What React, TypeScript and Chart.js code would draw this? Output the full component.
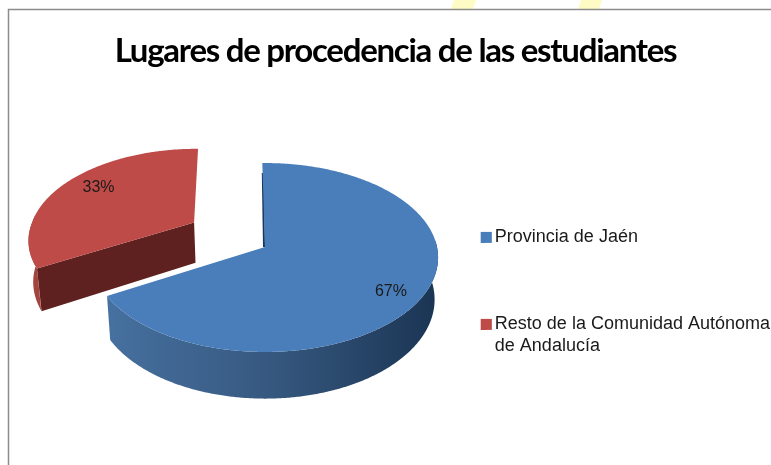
import React, { useEffect, useRef } from "react";
import { Chart, registerables } from "chart.js";

Chart.register(...registerables);

const categories: (string | string[])[] = [
  "Provincia de Jaén",
  ["Resto de la Comunidad Autónoma", "de Andalucía"],
];
const shares = [67, 33];
const percentLabels = ["67%", "33%"];
const sliceColors = ["#4A7EBB", "#BE4B48"];
const explodeOffsets = [0, 84];
const chartTitle = "Lugares de procedencia de las estudiantes";

const RAD = Math.PI / 180;
const PERSPECTIVE = 0.111;
const FLATTEN = 93.3 / 172;
const DEPTH = 41.5;
const TARGET_CENTRE = { x: 265, y: 247 };

const pie3d = {
  id: "pie3d",
  afterInit(chart: any) {
    const block = chart.titleBlock;
    const original = block.draw.bind(block);
    block.draw = (...args: any[]) => {
      chart.ctx.save();
      chart.ctx.letterSpacing = "-1.27px";
      original(...args);
      chart.ctx.restore();
    };
  },
  beforeDraw(chart: any) {
    const { ctx, width, height } = chart;
    ctx.save();
    ctx.fillStyle = "#ffffff";
    ctx.fillRect(0, 0, width, height);
    ctx.fillStyle = "#FFFBC4";
    for (const [a, b] of [[451, 476], [578, 602]]) {
      ctx.beginPath();
      ctx.moveTo(a + 3, 0);
      ctx.lineTo(b, 0);
      ctx.lineTo(b - 3, 9);
      ctx.lineTo(a, 9);
      ctx.closePath();
      ctx.fill();
    }
    ctx.strokeStyle = "#8C8C8C";
    ctx.lineWidth = 1.5;
    ctx.beginPath();
    ctx.moveTo(8.5, height);
    ctx.lineTo(8.5, 9.5);
    ctx.lineTo(width, 9.5);
    ctx.stroke();
    ctx.restore();
  },
  beforeDatasetsDraw(chart: any) {
    const { ctx } = chart;
    const arcs = chart.getDatasetMeta(0).data;
    const order = [1, 0];
    for (const i of order) {
      const arc = arcs[i];
      const R = arc.outerRadius;
      const cx = TARGET_CENTRE.x;
      const cy = TARGET_CENTRE.y;
      const mid = (arc.startAngle + arc.endAngle) / 2;
      const dx = (Math.cos(mid) * arc.options.offset) / R;
      const dy = (Math.sin(mid) * arc.options.offset) / R - (i === 1 ? 0.03 : 0);
      const s = arc.startAngle;
      const e = arc.endAngle;
      const project = (a: number, r: number, z: number) => {
        const mx = Math.cos(a) * r + dx;
        const my = Math.sin(a) * r + dy;
        const w = 1 - PERSPECTIVE * my;
        return {
          x: cx + ((R * mx) / w) * (1 - 0.02 * z),
          y: cy + (R * FLATTEN * my) / w + (DEPTH * z) / w,
        };
      };
      const rim = (a: number) => {
        if (i !== 1) return 1;
        const t = (a - s) / RAD;
        return 1 - 0.03 * Math.min(1, t / 30) - 0.05 * Math.max(0, (t - 30) / 89);
      };
      const wallFrom = Math.max(s, -4 * RAD);
      const wallTo = Math.min(e, 185 * RAD);
      ctx.beginPath();
      const pts: any[] = [];
      for (let a = wallFrom; a <= wallTo; a += RAD / 2) pts.push(project(a, rim(a), 0));
      pts.push(project(wallTo, rim(wallTo), 0));
      for (let a = wallTo; a >= wallFrom; a -= RAD / 2) pts.push(project(a, rim(a), 1));
      pts.forEach((p, k) => (k ? ctx.lineTo(p.x, p.y) : ctx.moveTo(p.x, p.y)));
      ctx.closePath();
      if (i === 0) {
        const g = ctx.createLinearGradient(cx - 155, 0, cx + 170, 0);
        g.addColorStop(0, "#46709F");
        g.addColorStop(0.5, "#36587F");
        g.addColorStop(1, "#1B3554");
        ctx.fillStyle = g;
      } else {
        ctx.fillStyle = "#A5433F";
      }
      ctx.fill();
      if (i === 1) {
        const a = project(s, 0, 0);
        const b = project(s, 1, 0);
        const c = project(s, 1, 1);
        const d = project(s, 0, 1);
        ctx.beginPath();
        ctx.moveTo(a.x, a.y);
        ctx.lineTo(b.x, b.y);
        ctx.lineTo(c.x, c.y);
        ctx.lineTo(d.x, d.y);
        ctx.closePath();
        ctx.fillStyle = "#5E211F";
        ctx.fill();
      } else {
        const a = project(s, 0, 0);
        const b = project(s, 1, 0);
        ctx.beginPath();
        ctx.moveTo(a.x - 1, a.y);
        ctx.lineTo(b.x + 0.5, b.y + 10);
        ctx.lineWidth = 2;
        ctx.strokeStyle = "#17375E";
        ctx.stroke();
      }
      ctx.beginPath();
      const o = project(s, 0, 0);
      ctx.moveTo(o.x, o.y);
      for (let a = s; a <= e; a += RAD / 2) {
        const p = project(a, rim(a), 0);
        ctx.lineTo(p.x, p.y);
      }
      const last = project(e, rim(e), 0);
      ctx.lineTo(last.x, last.y);
      ctx.closePath();
      ctx.fillStyle = arc.options.backgroundColor;
      ctx.fill();
      const la = mid + (i === 0 ? 3.5 : 4) * RAD;
      const lp = project(la, i === 0 ? 0.83 : 0.74, 0);
      ctx.save();
      ctx.fillStyle = "#1a1a1a";
      ctx.font = "16px 'Liberation Sans'";
      ctx.textAlign = "center";
      ctx.textBaseline = "middle";
      ctx.fillText(percentLabels[i], lp.x, lp.y);
      ctx.restore();
    }
    return false;
  },
  afterDraw(chart: any) {
    const { ctx, legend } = chart;
    ctx.save();
    legend.legendHitBoxes.forEach((hit: any, i: number) => {
      ctx.fillStyle = sliceColors[i];
      ctx.fillRect(hit.left, hit.top + 3.5, 11, 11);
    });
    ctx.restore();
  },
};

export default function App() {
  const ref = useRef<HTMLCanvasElement>(null);
  useEffect(() => {
    document.body.style.margin = "0";
    const chart = new Chart(ref.current as HTMLCanvasElement, {
      type: "pie",
      data: {
        labels: categories as any,
        datasets: [
          {
            data: shares,
            backgroundColor: sliceColors,
            offset: explodeOffsets,
            borderWidth: 0,
          } as any,
        ],
      },
      options: {
        responsive: false,
        animation: false,
        radius: 172,
        rotation: -1,
        layout: { padding: { left: 11, right: -9, top: 0, bottom: -122 } },
        plugins: {
          tooltip: { enabled: false },
          title: {
            display: true,
            text: chartTitle,
            color: "#000000",
            font: { family: "Lato", size: 33, weight: "bold" },
            padding: { top: 32, bottom: 6 },
          },
          legend: {
            position: "right",
            align: "center",
            labels: {
              boxWidth: 5,
              boxHeight: 11,
              padding: 69,
              color: "#1a1a1a",
              font: { family: "'Liberation Sans'", size: 18 },
            },
          },
        },
      } as any,
      plugins: [pie3d],
    });
    return () => chart.destroy();
  }, []);
  return <canvas ref={ref} width={771} height={465} style={{ display: "block" }} />;
}
